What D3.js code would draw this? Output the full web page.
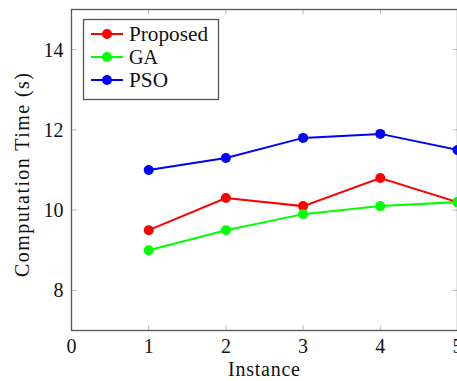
<!DOCTYPE html>
<html>
<head>
<meta charset="utf-8">
<script src="https://cdn.jsdelivr.net/npm/d3@7"></script>
<style>
  html, body { margin: 0; padding: 0; background: #fff; overflow: hidden; }
  svg { display: block; }
  text { font-family: "Liberation Serif", "DejaVu Serif", serif; fill: #111; }
</style>
</head>
<body>
<svg id="chart" width="457" height="381"></svg>
<script>
// Computation time per test instance for three optimisers
const instances = [1, 2, 3, 4, 5];
const proposed = [9.5, 10.3, 10.1, 10.8, 10.2];
const ga = [9.0, 9.5, 9.9, 10.1, 10.2];
const pso = [11.0, 11.3, 11.8, 11.9, 11.5];
const seriesNames = ["Proposed", "GA", "PSO"];
const seriesColors = ["#ff0000", "#00ff00", "#0000ff"];
const xTicks = [0, 1, 2, 3, 4, 5];
const yTicks = [8, 10, 12, 14];

const svg = d3.select("#chart");
const plotLeft = 71.5, plotRight = 457.5, plotTop = 9.5, plotBottom = 330.5;

const x = d3.scaleLinear().domain([0, 5]).range([plotLeft, plotRight]);
const y = d3.scaleLinear().domain([7, 15]).range([plotBottom, plotTop]);

const tickColor = "#bbb";
const frameColor = "#555";
const tickLen = 5;

// inward tick marks on all four sides
const g = svg.append("g");
xTicks.forEach(t => {
  g.append("line").attr("x1", x(t)).attr("x2", x(t))
    .attr("y1", plotBottom).attr("y2", plotBottom - tickLen)
    .attr("stroke", tickColor).attr("stroke-width", 1);
  g.append("line").attr("x1", x(t)).attr("x2", x(t))
    .attr("y1", plotTop).attr("y2", plotTop + tickLen)
    .attr("stroke", tickColor).attr("stroke-width", 1);
});
yTicks.forEach(t => {
  g.append("line").attr("x1", plotLeft).attr("x2", plotLeft + tickLen)
    .attr("y1", y(t)).attr("y2", y(t))
    .attr("stroke", tickColor).attr("stroke-width", 1);
  g.append("line").attr("x1", plotRight).attr("x2", plotRight - tickLen)
    .attr("y1", y(t)).attr("y2", y(t))
    .attr("stroke", tickColor).attr("stroke-width", 1);
});

// axis frame
svg.append("rect")
  .attr("x", plotLeft).attr("y", plotTop)
  .attr("width", plotRight - plotLeft).attr("height", plotBottom - plotTop)
  .attr("fill", "none").attr("stroke", frameColor).attr("stroke-width", 1.3);

// tick labels
const fs = 20;
xTicks.forEach(t => {
  svg.append("text").attr("x", x(t)).attr("y", plotBottom + 22)
    .attr("text-anchor", "middle").attr("font-size", fs).text(t);
});
yTicks.forEach(t => {
  svg.append("text").attr("x", plotLeft - 8).attr("y", y(t) + 7)
    .attr("text-anchor", "end").attr("font-size", fs).text(t);
});

// axis titles, stretched to the width of the original serif face
svg.append("text").attr("x", 264).attr("y", 376)
  .attr("text-anchor", "middle").attr("font-size", fs)
  .attr("textLength", 72).attr("lengthAdjust", "spacing")
  .text("Instance");
svg.append("text")
  .attr("transform", "translate(29,175) rotate(-90)")
  .attr("text-anchor", "middle").attr("font-size", fs)
  .attr("textLength", 204).attr("lengthAdjust", "spacing")
  .text("Computation Time (s)");

// series lines and markers
const allSeries = [proposed, ga, pso];
const line = d3.line().x((d, i) => x(instances[i])).y(d => y(d));
const plot = svg.append("g");
allSeries.forEach((vals, si) => {
  plot.append("path").datum(vals)
    .attr("d", line).attr("fill", "none")
    .attr("stroke", seriesColors[si]).attr("stroke-width", 2);
  plot.selectAll(null).data(vals).enter().append("circle")
    .attr("cx", (d, i) => x(instances[i])).attr("cy", d => y(d))
    .attr("r", 5).attr("fill", seriesColors[si]);
});

// legend
const legendTextWidths = [79, 29, 39];
const lg = svg.append("g");
lg.append("rect").attr("x", 83.5).attr("y", 19.5).attr("width", 135).attr("height", 80)
  .attr("fill", "#fff").attr("stroke", frameColor).attr("stroke-width", 1.3);
seriesNames.forEach((name, i) => {
  const cy = 34 + i * 23;
  lg.append("line").attr("x1", 91).attr("x2", 123).attr("y1", cy).attr("y2", cy)
    .attr("stroke", seriesColors[i]).attr("stroke-width", 2);
  lg.append("circle").attr("cx", 107).attr("cy", cy).attr("r", 5).attr("fill", seriesColors[i]);
  lg.append("text").attr("x", 129).attr("y", cy + 7).attr("font-size", fs)
    .attr("textLength", legendTextWidths[i]).attr("lengthAdjust", "spacingAndGlyphs")
    .text(name);
});
</script>
</body>
</html>
